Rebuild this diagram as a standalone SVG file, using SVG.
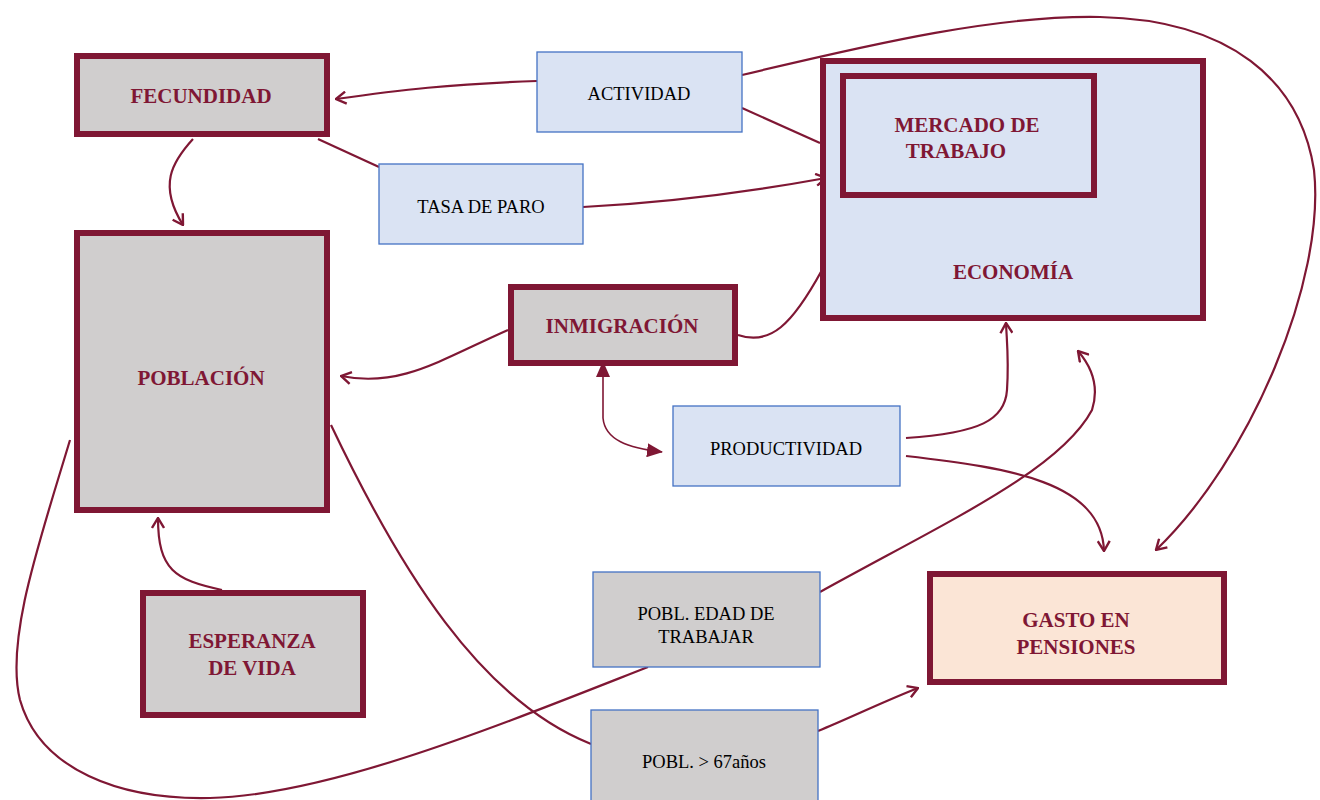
<svg xmlns="http://www.w3.org/2000/svg" width="1320" height="800" viewBox="0 0 1320 800">
<style>
.thick{fill:#d0cece;stroke:#7f1734;stroke-width:6}
.blue{fill:#dae3f3;stroke:#4472c4;stroke-width:1.3}
.grayb{fill:#d0cece;stroke:#4472c4;stroke-width:1.3}
.econ{fill:#dae3f3;stroke:#7f1734;stroke-width:6}
.peach{fill:#fbe5d6;stroke:#7f1734;stroke-width:6}
.lb{font-family:"Liberation Serif","Times New Roman",serif;font-weight:bold;font-size:21px;fill:#7f1734;text-anchor:middle}
.ln{font-family:"Liberation Serif","Times New Roman",serif;font-size:18.5px;fill:#000;text-anchor:middle}
.c{fill:none;stroke:#7f1734;stroke-width:2.2}
.cthin{fill:none;stroke:#7f1734;stroke-width:1.6}
</style>
<defs>
<marker id="open" viewBox="0 0 12 14" refX="11" refY="7" markerWidth="12" markerHeight="14" markerUnits="userSpaceOnUse" orient="auto">
<path d="M1,1 L11,7 L1,13" fill="none" stroke="#7f1734" stroke-width="2.4"/>
</marker>
<marker id="fill" viewBox="0 0 16 14" refX="15" refY="7" markerWidth="16" markerHeight="14" markerUnits="userSpaceOnUse" orient="auto">
<path d="M0,0 L16,7 L0,14 Z" fill="#7f1734"/>
</marker>
<marker id="fillStart" viewBox="0 0 16 14" refX="1" refY="7" markerWidth="16" markerHeight="14" markerUnits="userSpaceOnUse" orient="auto-start-reverse">
<path d="M0,0 L16,7 L0,14 Z" fill="#7f1734"/>
</marker>
</defs>
<rect width="1320" height="800" fill="#fff"/>
<g id="connectors">
<path class="c" d="M537,81 C450,84 400,90 336,99" marker-end="url(#open)"/>
<path class="c" d="M193,139 C172,162 158,185 183,225" marker-end="url(#open)"/>
<path class="c" d="M318,139 L379,167"/>
<path class="c" d="M583,207 C680,202 760,190 826,178" marker-end="url(#open)"/>
<path class="c" d="M742,108 L820,143"/>
<path class="c" d="M742,75 C880,42 1000,15 1100,17 C1230,20 1300,80 1314,170 C1326,280 1250,460 1156,550" marker-end="url(#open)"/>
<path class="c" d="M508,330 C440,360 400,388 341,376" marker-end="url(#open)"/>
<path class="c" d="M738,335 C770,346 792,325 822,270"/>
<path class="cthin" d="M603,376 L603,418 C605,440 628,448 662,452" marker-start="url(#fillStart)" marker-end="url(#fill)"/>
<path class="c" d="M906,438 C980,433 1005,420 1007,390 C1009,360 1007,345 1006,323" marker-end="url(#open)"/>
<path class="c" d="M906,456 C1010,468 1102,482 1104,551" marker-end="url(#open)"/>
<path class="c" d="M820,592 C950,520 1060,470 1092,410 C1100,385 1090,365 1078,351" marker-end="url(#open)"/>
<path class="c" d="M70,440 C40,540 5,640 20,700 C40,770 120,800 210,798 C330,795 500,725 648,667"/>
<path class="c" d="M331,425 C400,570 480,700 591,744"/>
<path class="c" d="M818,731 C850,718 880,703 918,688" marker-end="url(#open)"/>
<path class="c" d="M222,590 C175,580 158,570 158,518" marker-end="url(#open)"/>
</g>
<g id="fecundidad"><rect class="thick" x="77" y="56" width="250" height="78"/><text class="lb" x="201" y="103">FECUNDIDAD</text></g>
<g id="poblacion"><rect class="thick" x="77" y="233" width="250" height="277"/><text class="lb" x="201" y="385">POBLACIÓN</text></g>
<g id="esperanza"><rect class="thick" x="143" y="593" width="220" height="122"/><text class="lb" x="252" y="648">ESPERANZA</text><text class="lb" x="252" y="675">DE VIDA</text></g>
<g id="inmigracion"><rect class="thick" x="511" y="287" width="224" height="76"/><text class="lb" x="622" y="333">INMIGRACIÓN</text></g>
<g id="actividad"><rect class="blue" x="537" y="52" width="205" height="80"/><text class="ln" x="639" y="100">ACTIVIDAD</text></g>
<g id="tasa"><rect class="blue" x="379" y="164" width="204" height="80"/><text class="ln" x="481" y="213">TASA DE PARO</text></g>
<g id="productividad"><rect class="blue" x="673" y="406" width="227" height="80"/><text class="ln" x="786" y="455">PRODUCTIVIDAD</text></g>
<g id="economia"><rect class="econ" x="823" y="61" width="380" height="257"/><text class="lb" x="1013" y="279">ECONOMÍA</text></g>
<g id="mercado"><rect class="econ" x="843" y="76" width="251" height="119"/><text class="lb" x="967" y="132">MERCADO DE</text><text class="lb" x="956" y="158">TRABAJO</text></g>
<g id="gasto"><rect class="peach" x="930" y="574" width="294" height="108"/><text class="lb" x="1076" y="627">GASTO EN</text><text class="lb" x="1076" y="654">PENSIONES</text></g>
<g id="edad"><rect class="grayb" x="593" y="572" width="227" height="95"/><text class="ln" x="706" y="620">POBL. EDAD DE</text><text class="ln" x="706" y="643">TRABAJAR</text></g>
<g id="mayores"><rect class="grayb" x="591" y="710" width="227" height="100"/><text class="ln" x="704" y="768">POBL. &gt; 67años</text></g>
</svg>
